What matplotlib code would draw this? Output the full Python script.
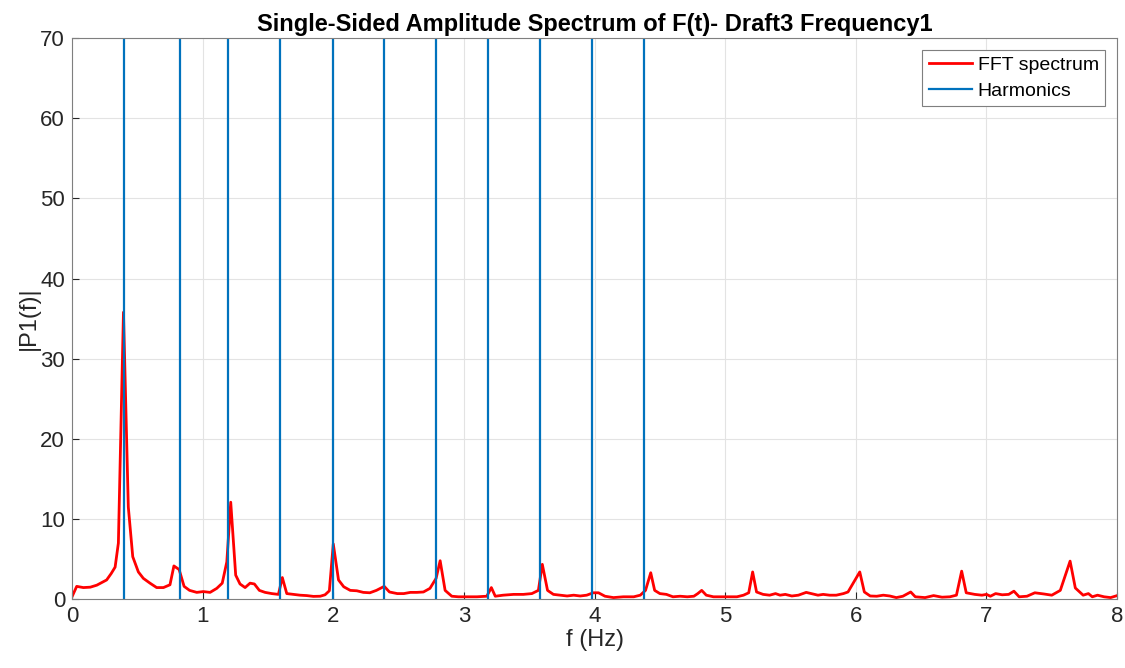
import matplotlib.pyplot as plt

plt.rcParams['font.family'] = ['Liberation Sans', 'DejaVu Sans']

# FFT spectrum vertices
freq = [0.0, 0.036, 0.087, 0.14, 0.19, 0.23, 0.265, 0.30, 0.33, 0.355, 0.394, 0.431,
        0.465, 0.508, 0.546, 0.597, 0.648, 0.70, 0.75, 0.78, 0.82, 0.858, 0.90, 0.955,
        1.005, 1.057, 1.108, 1.15, 1.185, 1.215, 1.253, 1.286, 1.325, 1.363, 1.396,
        1.434, 1.478, 1.529, 1.58, 1.61, 1.644, 1.695, 1.746, 1.797, 1.848, 1.90,
        1.937, 1.97, 2.0, 2.04, 2.08, 2.13, 2.18, 2.23, 2.28, 2.33, 2.39, 2.43, 2.49,
        2.54, 2.59, 2.64, 2.69, 2.74, 2.787, 2.818, 2.856, 2.907, 2.958, 3.02, 3.10,
        3.175, 3.21, 3.24, 3.30, 3.38, 3.455, 3.52, 3.57, 3.60, 3.64, 3.685, 3.74,
        3.79, 3.84, 3.89, 3.94, 3.99, 4.03, 4.08, 4.145, 4.22, 4.30, 4.35, 4.39, 4.43,
        4.46, 4.50, 4.55, 4.60, 4.655, 4.71, 4.76, 4.79, 4.82, 4.855, 4.91, 4.975,
        5.01, 5.09, 5.14, 5.18, 5.21, 5.24, 5.29, 5.34, 5.385, 5.42, 5.46, 5.51, 5.56,
        5.62, 5.66, 5.71, 5.75, 5.80, 5.85, 5.905, 5.94, 5.98, 6.03, 6.065, 6.11,
        6.16, 6.21, 6.26, 6.31, 6.36, 6.42, 6.455, 6.53, 6.595, 6.66, 6.72, 6.77,
        6.81, 6.845, 6.91, 6.965, 7.00, 7.03, 7.07, 7.12, 7.17, 7.21, 7.25, 7.31,
        7.37, 7.44, 7.50, 7.565, 7.64, 7.68, 7.74, 7.78, 7.81, 7.85, 7.90, 7.95, 8.0]
amp = [0.3, 1.6, 1.45, 1.5, 1.75, 2.1, 2.4, 3.2, 4.0, 7.0, 35.8, 11.5,
       5.3, 3.4, 2.6, 2.0, 1.45, 1.45, 1.8, 4.15, 3.7, 1.6, 1.1, 0.85,
       0.95, 0.85, 1.35, 2.0, 4.65, 12.1, 3.0, 1.9, 1.45, 2.0, 1.9,
       1.1, 0.85, 0.7, 0.6, 2.7, 0.7, 0.6, 0.5, 0.45, 0.35, 0.37,
       0.55, 1.05, 6.9, 2.4, 1.55, 1.1, 1.05, 0.85, 0.8, 1.1, 1.6, 0.9, 0.7,
       0.7, 0.85, 0.85, 0.9, 1.35, 2.6, 4.8, 1.1, 0.37, 0.3, 0.3, 0.3,
       0.37, 1.45, 0.37, 0.5, 0.6, 0.6, 0.7, 1.1, 4.35, 1.1, 0.6, 0.5,
       0.4, 0.5, 0.4, 0.5, 0.8, 0.8, 0.37, 0.2, 0.3, 0.3, 0.5, 1.1, 3.3,
       1.1, 0.7, 0.6, 0.3, 0.37, 0.3, 0.37, 0.7, 1.1, 0.5, 0.3, 0.3,
       0.3, 0.3, 0.5, 0.8, 3.4, 0.9, 0.6, 0.5, 0.7, 0.5, 0.6, 0.4, 0.5,
       0.85, 0.7, 0.5, 0.6, 0.5, 0.5, 0.7, 0.9, 2.0, 3.4, 0.9, 0.4,
       0.37, 0.5, 0.4, 0.2, 0.37, 0.9, 0.3, 0.2, 0.45, 0.25, 0.3, 0.5,
       3.5, 0.8, 0.6, 0.5, 0.6, 0.37, 0.7, 0.55, 0.6, 1.0, 0.3, 0.37,
       0.8, 0.65, 0.5, 1.1, 4.75, 1.4, 0.5, 0.7, 0.3, 0.5, 0.3, 0.2, 0.45]

# harmonic frequencies (vertical lines)
harmonics = [0.398, 0.827, 1.195, 1.593, 1.998, 2.389, 2.787, 3.185, 3.583, 3.98, 4.38]

fig = plt.figure(figsize=(11.25, 6.68), dpi=100)
ax = fig.add_axes([0.064, 0.103, 0.929, 0.84])

ax.plot(freq, amp, color='red', linewidth=2, label='FFT spectrum')
for i, h in enumerate(harmonics):
    ax.axvline(h, color='#0072BD', linewidth=1.6,
               label='Harmonics' if i == 0 else None)

ax.set_xlim(0, 8)
ax.set_ylim(0, 70)
ax.set_xticks(range(0, 9))
ax.set_yticks(range(0, 71, 10))
ax.grid(True, color='#e3e3e3', linewidth=0.8)
ax.set_axisbelow(True)
ax.tick_params(direction='in', labelsize=16, colors='#262626', length=5, pad=5)
for s in ax.spines.values():
    s.set_color('#7f7f7f')

ax.set_xlabel('f (Hz)', fontsize=17, color='#262626', labelpad=1)
ax.set_ylabel('|P1(f)|', fontsize=17, color='#262626', labelpad=0)
ax.set_title('Single-Sided Amplitude Spectrum of F(t)- Draft3 Frequency1',
             fontsize=17, fontweight='bold', pad=5)

leg = ax.legend(loc='upper right', fontsize=14, fancybox=False, framealpha=1,
                edgecolor='#7f7f7f', borderpad=0.35, handlelength=2.2,
                handletextpad=0.3, labelspacing=0.4, borderaxespad=0.6)
leg.get_frame().set_linewidth(0.8)

fig.savefig('out.png', dpi=100)
